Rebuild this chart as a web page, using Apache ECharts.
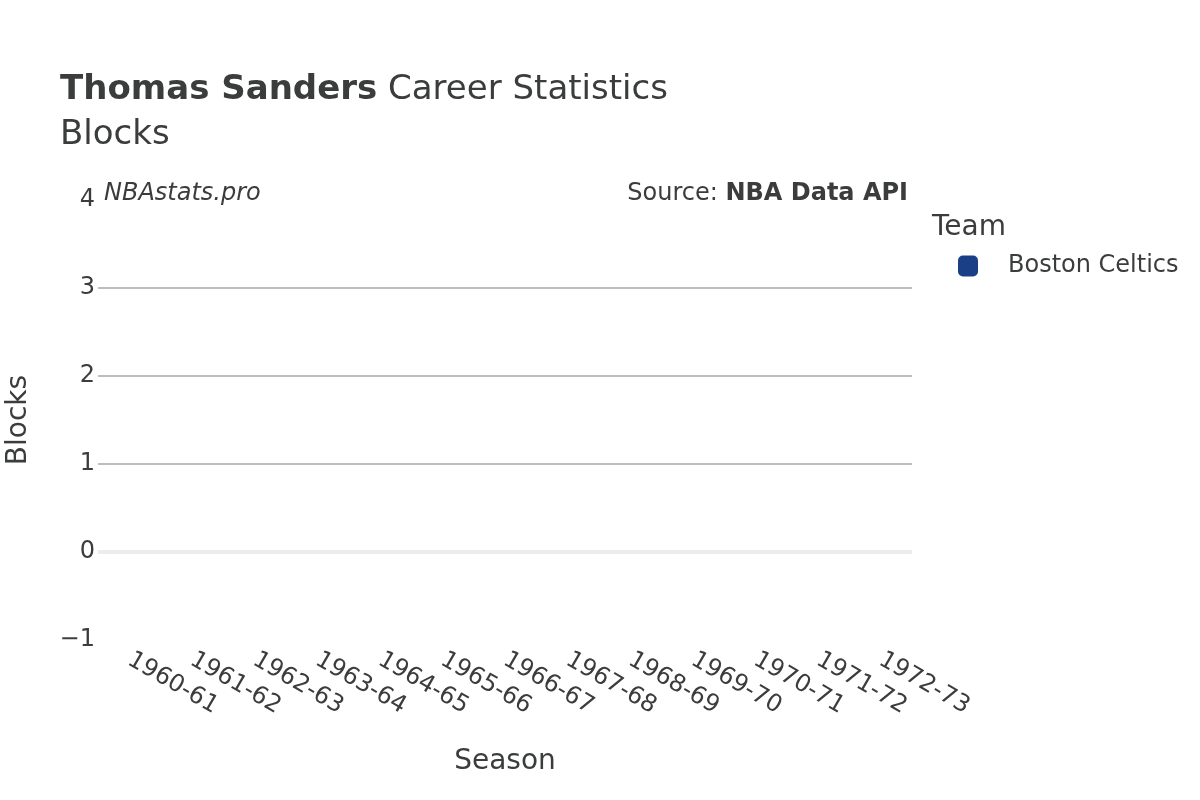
<!DOCTYPE html>
<html><head><meta charset="utf-8">
<script src="https://cdn.jsdelivr.net/npm/echarts@6/dist/echarts.min.js"></script>
<style>html,body{margin:0;padding:0;background:#fff}#c{width:1200px;height:800px}</style>
</head><body><div id="c"></div>
<script>
const seasons = ['1960-61','1961-62','1962-63','1963-64','1964-65','1965-66','1966-67','1967-68','1968-69','1969-70','1970-71','1971-72','1972-73'];
const blocks = [0,0,0,0,0,0,0,0,0,0,0,0,0];
const teamName = 'Boston Celtics';
const teamColor = '#1b3f86';
const yTicks = {min:-1, max:4, interval:1};

const font = 'DejaVu Sans';
const ink = '#3a3d3b';
const chart = echarts.init(document.getElementById('c'));
chart.setOption({
  animation:false,
  textStyle:{fontFamily:font},
  title:{
    left:55, top:63, padding:5,
    text:'{b|Thomas Sanders}{n| Career Statistics}\n{n|Blocks}',
    textStyle:{fontWeight:'normal',rich:{
      b:{fontFamily:font,fontWeight:'bold',fontSize:34,color:ink,lineHeight:45},
      n:{fontFamily:font,fontWeight:'normal',fontSize:34,color:ink,lineHeight:45}
    }}
  },
  graphic:[
    {type:'text',left:104,top:182,style:{text:'NBAstats.pro',font:'italic 24px "DejaVu Sans"',fill:ink}},
    {type:'text',right:292,top:182,style:{text:'{n|Source: }{b|NBA Data API}',rich:{
      n:{fontFamily:font,fontSize:24,fill:ink},
      b:{fontFamily:font,fontSize:24,fontWeight:'bold',fill:ink}}}},
    {type:'text',left:932,top:214,style:{text:'Team',font:'28px "DejaVu Sans"',fill:ink}}
  ],
  legend:{
    left:953, top:249, orient:'vertical',
    icon:'roundRect', itemWidth:20, itemHeight:21, itemGap:10,
    textStyle:{fontFamily:font,fontSize:24,color:ink,padding:[0,0,0,25]},
    data:[teamName]
  },
  grid:{left:98,right:288,top:200,bottom:160,outerBoundsMode:'none',containLabel:false},
  xAxis:{
    type:'category', data:seasons,
    name:'Season', nameLocation:'middle', nameGap:108,
    nameTextStyle:{fontFamily:font,fontSize:28,color:ink},
    axisLine:{show:false}, axisTick:{show:false},
    axisLabel:{rotate:-30, fontFamily:font, fontSize:24, color:ink, margin:18, interval:0}
  },
  yAxis:{
    type:'value', min:yTicks.min, max:yTicks.max, interval:yTicks.interval,
    name:'Blocks', nameLocation:'middle', nameGap:65, nameRotate:90,
    nameTextStyle:{fontFamily:font,fontSize:28,color:ink},
    axisLine:{show:false}, axisTick:{show:false},
    axisLabel:{fontFamily:font,fontSize:24,color:ink,margin:3,
      formatter:v=> v<0 ? '\u2212'+Math.abs(v) : String(v)},
    splitLine:{show:true,showMinLine:false,showMaxLine:false,lineStyle:{color:'#bdbdbd',width:2}}
  },
  series:[{
    name:teamName, type:'bar', data:blocks,
    itemStyle:{color:teamColor},
    markLine:{silent:true,symbol:'none',label:{show:false},
      lineStyle:{color:'#ececec',width:4,type:'solid'},data:[{yAxis:0}]}
  }]
});
</script></body></html>
